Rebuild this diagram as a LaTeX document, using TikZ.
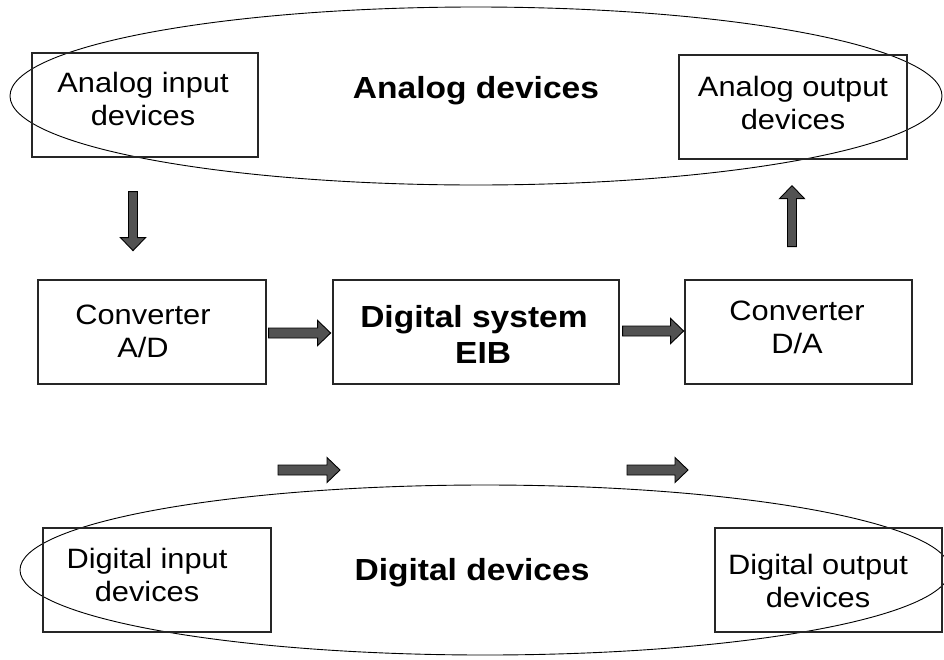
\documentclass[tikz,border=0pt]{standalone}
\usepackage{fontspec}
\setmainfont{Liberation Sans}[FakeStretch=1.1]
\usetikzlibrary{calc}
\begin{document}
\begin{tikzpicture}[x=1pt,y=-1pt,
  box/.style={draw=black!85, line width=1.3pt, minimum width=#1, minimum height=104pt, inner sep=0pt},
  box/.default=227pt,
  lbl/.style={inner sep=0pt, align=center, font=\fontsize{28}{33}\selectfont},
  big/.style={inner sep=0pt, align=center, font=\fontsize{30.5}{36}\selectfont\bfseries},
  oval/.style={draw=black, line width=0.9pt},
  blk/.style={fill=black!68, draw=black, line width=0.9pt, line join=miter}]
\useasboundingbox (0,0) rectangle (944,659);
\clip (0,0) rectangle (944,659);
\fill[white] (0,0) rectangle (944,659);

% ovals
\draw[oval] (476,96) ellipse [x radius=466, y radius=89];
\draw[oval] (485,570) ellipse [x radius=465, y radius=85];

% boxes
\node[box=226pt] (ai) at (145,105) {};
\node[box=228pt] (ao) at (793,107) {};
\node[box=228pt] (ad) at (152,332) {};
\node[box=286pt] (ds) at (476,332) {};
\node[box=227pt] (da) at (798.5,332) {};
\node[box=228pt] (di) at (157,580) {};
\node[box=227pt] (do) at (828.5,580) {};

% texts
\node[lbl] (tai) at (143,98.5) {Analog input\\devices};
\node[lbl] (tao) at (793,102.5) {Analog output\\devices};
\node[lbl] (tad) at (143,331.5) {Converter\\A/D};
\node[lbl] (tda) at (797,327) {Converter\\D/A};
\node[lbl] (tdi) at (147,575) {Digital input\\devices};
\node[lbl] (tdo) at (818,581) {Digital output\\devices};
\node[big] (tds) at (474,334) {Digital system\\\hspace*{0.6em}EIB};
\node[big, anchor=base] (tan) at (476,98) {Analog devices};
\node[big, anchor=base] (tdd) at (472,580) {Digital devices};

% block arrows
\coordinate (a1) at (ai.south -| 133,0);
\coordinate (a2) at (ao.south -| 792,0);
\coordinate (h1) at (ad.east |- 0,333);
\coordinate (h2) at (ds.east |- 0,331);
\coordinate (b1) at (278,470);
\coordinate (b2) at (627,470);

% down arrow
\draw[blk] ($(a1)+(0,34)$) ++(-4.5,0) -- ++(0,46) -- ++(-8,0) -- ++(12.5,13) -- ++(12.5,-13) -- ++(-8,0) -- ++(0,-46) -- cycle;
% up arrow
\draw[blk] ($(a2)+(0,87)$) ++(-4.5,0) -- ++(0,-48) -- ++(-8,0) -- ++(12.5,-13) -- ++(12.5,13) -- ++(-8,0) -- ++(0,48) -- cycle;
% right arrows
\draw[blk] ($(h1)+(2,0)$) ++(0,-5) -- ++(49,0) -- ++(0,-7.5) -- ++(13,12.5) -- ++(-13,12.5) -- ++(0,-7.5) -- ++(-49,0) -- cycle;
\draw[blk] ($(h2)+(3,0)$) ++(0,-5) -- ++(48,0) -- ++(0,-7.5) -- ++(13,12.5) -- ++(-13,12.5) -- ++(0,-7.5) -- ++(-48,0) -- cycle;
\draw[blk] (b1) ++(0,-5) -- ++(49,0) -- ++(0,-7.5) -- ++(13,12.5) -- ++(-13,12.5) -- ++(0,-7.5) -- ++(-49,0) -- cycle;
\draw[blk] (b2) ++(0,-5) -- ++(48,0) -- ++(0,-7.5) -- ++(13,12.5) -- ++(-13,12.5) -- ++(0,-7.5) -- ++(-48,0) -- cycle;
\end{tikzpicture}
\end{document}
